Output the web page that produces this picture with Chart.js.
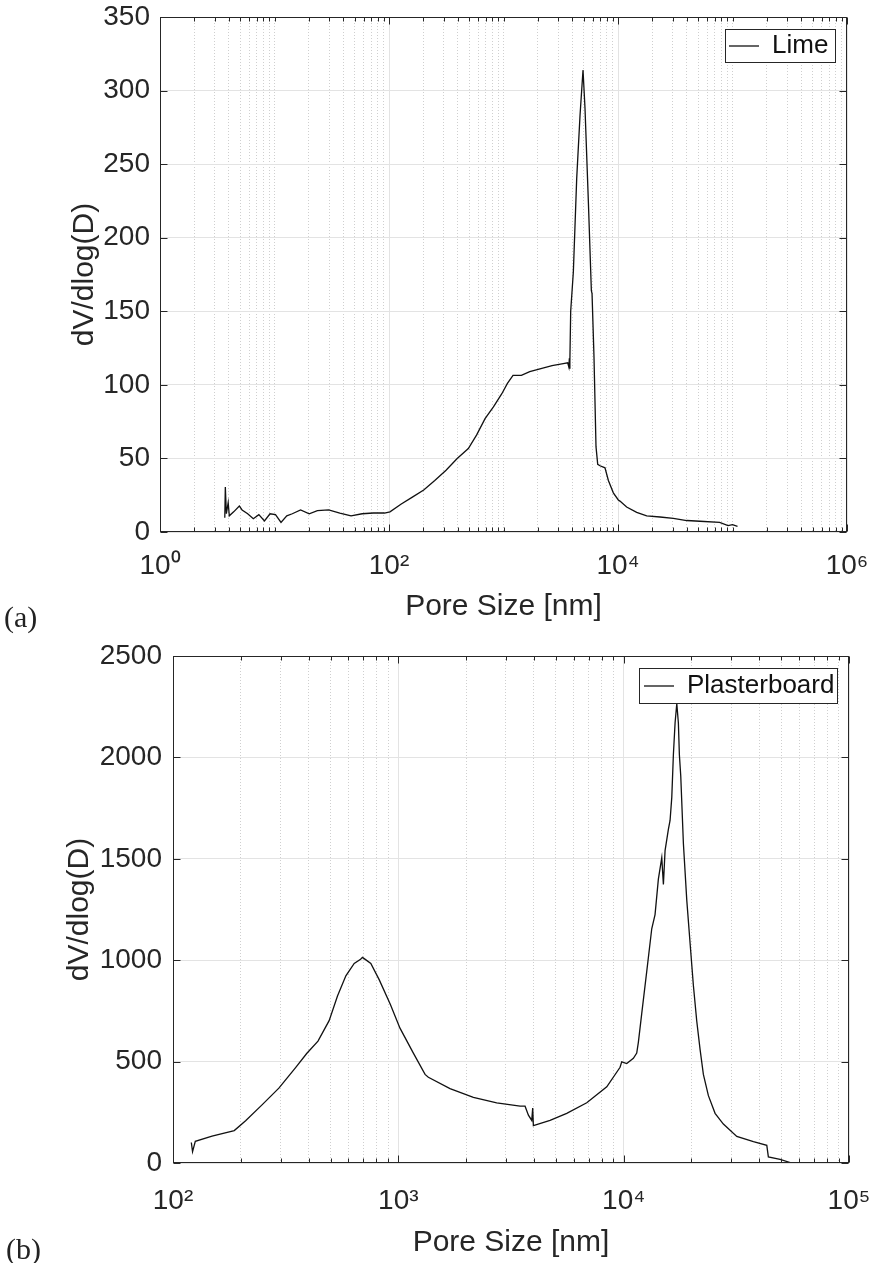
<!DOCTYPE html>
<html>
<head>
<meta charset="utf-8">
<script src="https://cdn.jsdelivr.net/npm/chart.js@4.4.1/dist/chart.umd.min.js"></script>
<style>
  body { margin: 0; background: #fff; width: 874px; height: 1263px; position: relative; overflow: hidden; }
  canvas { position: absolute; left: 0; }
  #chartA { top: 0; }
  #chartB { top: 630px; }
  .tag { position: absolute; font-family: "Liberation Serif", "DejaVu Serif", serif; font-size: 30px; line-height: 30px; color: #222; }
</style>
</head>
<body>
<canvas id="chartA" width="874" height="625"></canvas>
<canvas id="chartB" width="874" height="631"></canvas>
<div class="tag" style="left:4px;top:602px">(a)</div>
<div class="tag" style="left:6px;top:1234px">(b)</div>
<script>
// (a) Lime
var limeSize = [3.68, 3.72, 3.80, 3.94, 4.03, 4.40, 4.93, 5.21, 5.83, 6.53, 7.30, 8.17, 9.14, 10.2, 11.4, 12.8, 14.3, 16.9, 20.1, 23.7,
  29.7, 37.2, 46.6, 58.3, 73.0, 91.4, 102, 128, 160, 201, 251, 315, 394, 493, 583, 690, 817, 967, 1082, 1211,
  1432, 1695, 2122, 2656, 3325, 3637, 3722, 3760, 3790, 3808, 3862, 4076, 4357, 4659, 4948, 5150, 5508, 5853, 5933, 6171,
  6425, 6650, 6966, 7696, 8241, 9106, 10060, 10400, 11900, 14560, 17810, 23290, 30430, 39810, 52000, 77200, 91400, 100000, 110600];
var limeDV = [9.7, 30.6, 12.4, 20, 11, 13.7, 17.7, 15, 12.4, 9, 11.8, 7.5, 12.4, 11.8, 6.5, 11, 12.4, 15, 12.4, 14.5,
  15, 12.9, 11, 12.4, 12.9, 12.9, 13.7, 19, 23.7, 28.5, 35, 42, 50, 56.7, 66, 77, 85, 94, 101, 106.5,
  106.5, 109, 111, 113, 114.5, 115, 112, 118, 111, 116, 150, 177, 240, 283, 314, 288, 225, 164, 162, 119,
  58, 46, 45, 43.6, 35, 26.6, 21.8, 21, 17, 13.3, 10.9, 10.2, 9.2, 7.8, 7.3, 6.5, 4.3, 5, 3.8];

// (b) Plasterboard
var plasterSize = [120.6, 122.1, 125.6, 149, 187, 210, 249, 295, 350, 392, 440, 493, 537, 585, 637, 680, 693, 713, 755, 823,
  922, 1017, 1166, 1314, 1359, 1696, 2153, 2733, 3470, 3651, 3778, 3909, 3948, 3975, 4713, 5589, 6858, 8414, 9638, 9804,
  10318, 11043, 11428, 11620, 12023, 12660, 13323, 13781, 14256, 14760, 15008, 15266, 15791, 16066, 16350, 16620, 16910, 17210, 17490, 17670,
  17920, 18410, 19060, 19710, 20390, 21100, 21830, 22580, 23770, 25450, 27700, 31770, 37650, 43170, 43870, 49440, 55730];
var plasterDV = [101, 56, 107, 133, 160, 208, 288, 369, 470, 540, 601, 702, 823, 923, 984, 1005, 1014, 1004, 984, 903,
  782, 665, 542, 437, 423, 367, 324, 297, 280, 280, 236, 210, 271, 184, 210, 245, 297, 376, 472, 499,
  490, 516, 542, 595, 735, 945, 1155, 1225, 1400, 1505, 1374, 1540, 1645, 1689, 1803, 2013, 2170, 2266, 2170, 2013,
  1908, 1575, 1295, 1085, 875, 700, 560, 437, 332, 245, 192, 131, 105, 87, 30, 17.5, 0];

// tick labels
var xTicksA = [1, 100, 10000, 1000000];
var xLabelsA = ['10\u2070', '10\u00B2', '10\u2074', '10\u2076'];
var xTicksB = [100, 1000, 10000, 100000];
var xLabelsB = ['10\u00B2', '10\u00B3', '10\u2074', '10\u2075'];

var ink = '#262626';
var font = '"Liberation Sans", Arial, sans-serif';

// minor grid positions on a log axis (everything that is not a major tick)
function minorTicks(lo, hi, majors) {
  var out = [];
  for (var d = lo; d < hi; d *= 10) {
    for (var k = 1; k <= 9; k++) {
      var v = Math.round(k * d * 1000) / 1000;
      if (v >= lo && v <= hi && majors.indexOf(v) < 0) out.push(v);
    }
  }
  return out;
}

// matlab-ish box with inward ticks, and a legend with white background
var boxPlugin = {
  id: 'boxPlugin',
  afterLayout: function(chart) {
    var o = chart.options.plugins.boxPlugin;
    var lg = chart.legend, a = chart.chartArea;
    lg.width = o.legendW; lg.height = o.legendH;
    lg.right = a.right - o.gap; lg.left = lg.right - o.legendW;
    lg.top = a.top + o.gap; lg.bottom = lg.top + o.legendH;
  },
  afterDatasetsDraw: function(chart) {
    var ctx = chart.ctx, a = chart.chartArea;
    var L = Math.round(a.left) + 0.5, R = Math.round(a.right) - 0.5;
    var T = Math.round(a.top) + 0.5, B = Math.round(a.bottom) - 0.5;
    ctx.save();
    ctx.strokeStyle = ink;
    ctx.lineWidth = 1;
    ctx.beginPath();
    var sx = chart.scales.x, sm = chart.scales.xm, sy = chart.scales.y;
    sx.ticks.forEach(function(t) {
      var p = Math.round(sx.getPixelForValue(t.value)) + 0.5;
      ctx.moveTo(p, B); ctx.lineTo(p, B - 7);
      ctx.moveTo(p, T); ctx.lineTo(p, T + 7);
    });
    sm.ticks.forEach(function(t) {
      var p = Math.round(sm.getPixelForValue(t.value)) + 0.5;
      ctx.moveTo(p, B); ctx.lineTo(p, B - 4);
      ctx.moveTo(p, T); ctx.lineTo(p, T + 4);
    });
    sy.ticks.forEach(function(t) {
      var p = Math.round(sy.getPixelForValue(t.value)) + 0.5;
      ctx.moveTo(L, p); ctx.lineTo(L + 7, p);
      ctx.moveTo(R, p); ctx.lineTo(R - 7, p);
    });
    ctx.stroke();
    ctx.strokeRect(L, T, R - L, B - T);
    var lg = chart.legend;
    ctx.fillStyle = '#fff';
    ctx.fillRect(lg.left, lg.top, lg.width, lg.height);
    ctx.strokeRect(Math.round(lg.left) + 0.5, Math.round(lg.top) + 0.5, lg.width, lg.height);
    ctx.restore();
    lg.draw(a);
  }
};

function makeChart(id, cfg) {
  var majors = cfg.xTicks;
  var minors = minorTicks(majors[0], majors[majors.length - 1], majors);
  return new Chart(document.getElementById(id), {
    type: 'line',
    data: {
      datasets: [{
        label: cfg.label,
        data: cfg.sizes.map(function(s, i) { return {x: s, y: cfg.values[i]}; }),
        borderColor: '#111',
        backgroundColor: '#111',
        borderWidth: 1.3,
        pointRadius: 0,
        tension: 0,
      }],
    },
    options: {
      responsive: false,
      animation: false,
      devicePixelRatio: 1,
      layout: { padding: cfg.pad, autoPadding: false },
      plugins: {
        legend: {
          position: 'chartArea',
          align: 'start',
          labels: {
            usePointStyle: true,
            pointStyle: 'line',
            pointStyleWidth: 30,
            boxWidth: 30,
            padding: cfg.legendPad,
            color: '#111',
            font: { family: font, size: 26 },
          },
        },
        tooltip: { enabled: false },
        boxPlugin: { legendW: cfg.legendW, legendH: cfg.legendH, gap: 12 },
      },
      scales: {
        x: {
          type: 'logarithmic',
          position: 'bottom',
          min: majors[0],
          max: majors[majors.length - 1],
          afterBuildTicks: function(s) { s.ticks = majors.map(function(v) { return {value: v}; }); },
          afterFit: function(s) { s.height = cfg.xAxisH; s.paddingLeft = 0; s.paddingRight = 0; },
          ticks: {
            autoSkip: false,
            maxRotation: 0,
            padding: cfg.xTickPad,
            color: ink,
            font: { family: font, size: 28 },
            callback: function(v, i) { return cfg.xLabels[i]; },
          },
          grid: { color: '#e3e3e3', drawTicks: false },
          border: { display: false },
          title: {
            display: true,
            text: 'Pore Size [nm]',
            color: ink,
            font: { family: font, size: 30 },
            padding: { top: 0, bottom: 0 },
          },
        },
        xm: {
          type: 'logarithmic',
          position: 'bottom',
          min: majors[0],
          max: majors[majors.length - 1],
          afterBuildTicks: function(s) { s.ticks = minors.map(function(v) { return {value: v}; }); },
          afterFit: function(s) { s.height = 0; s.paddingLeft = 0; s.paddingRight = 0; },
          ticks: { display: false },
          grid: { color: '#cfcfcf', drawTicks: false },
          border: { display: false, dash: [1, 2] },
        },
        y: {
          type: 'linear',
          min: 0,
          max: cfg.yMax,
          afterFit: function(s) { s.width = cfg.yAxisW; s.paddingTop = 0; s.paddingBottom = 0; },
          ticks: {
            stepSize: cfg.yStep,
            padding: cfg.yTickPad,
            color: ink,
            font: { family: font, size: 28 },
            callback: function(v) { return String(v); },
          },
          grid: { color: '#e3e3e3', drawTicks: false },
          border: { display: false },
          title: {
            display: true,
            text: 'dV/dlog(D)',
            color: ink,
            font: { family: font, size: 30 },
            padding: { top: 7, bottom: 0 },
          },
        },
      },
    },
    plugins: [boxPlugin],
  });
}

makeChart('chartA', {
  label: 'Lime', sizes: limeSize, values: limeDV,
  xTicks: xTicksA, xLabels: xLabelsA, yMax: 350, yStep: 50,
  pad: { left: 60, top: 17, right: 27, bottom: 0 },
  yAxisW: 100, xAxisH: 93, xTickPad: 17, yTickPad: 10,
  legendW: 110, legendH: 33, legendPad: 4,
});

makeChart('chartB', {
  label: 'Plasterboard', sizes: plasterSize, values: plasterDV,
  xTicks: xTicksB, xLabels: xLabelsB, yMax: 2500, yStep: 500,
  pad: { left: 55, top: 26, right: 25, bottom: 0 },
  yAxisW: 118, xAxisH: 98, xTickPad: 21, yTickPad: 11,
  legendW: 198, legendH: 35, legendPad: 5,
});
</script>
</body>
</html>
